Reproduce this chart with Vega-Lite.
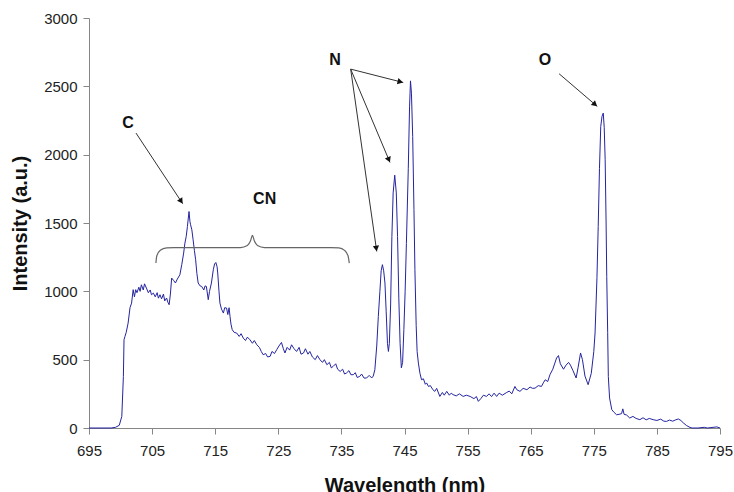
{
  "$schema": "https://vega.github.io/schema/vega-lite/v6.json",
  "width": 631,
  "height": 410,
  "autosize": "none",
  "padding": {"left": 89, "top": 18, "right": 14, "bottom": 64},
  "background": "white",
  "config": {
    "view": {"stroke": null},
    "axis": {
      "grid": false,
      "domainColor": "#868686",
      "tickColor": "#868686",
      "tickSize": 6,
      "labelFont": "Liberation Sans",
      "labelFontSize": 15,
      "labelColor": "#222222",
      "titleFont": "Liberation Sans",
      "titleFontSize": 20,
      "titleFontWeight": "bold",
      "titleColor": "#111111"
    },
    "axisX": {"labelPadding": 9, "titlePadding": 17, "labelFlush": false},
    "axisY": {"labelPadding": 6, "titlePadding": 13}
  },
  "layer": [
    {
      "data": {"values": [
        {"wl":695,"i":0},{"wl":698.5,"i":0},{"wl":699.2,"i":5},{"wl":699.8,"i":20},{"wl":700.2,"i":85},{"wl":700.45,"i":377},{"wl":700.55,"i":646},{"wl":700.7,"i":670},{"wl":700.9,"i":700},{"wl":701.2,"i":768},{"wl":701.5,"i":880},{"wl":701.75,"i":914},{"wl":702.0,"i":1012},{"wl":702.2,"i":960},{"wl":702.4,"i":1012},{"wl":702.6,"i":990},{"wl":702.9,"i":1030},{"wl":703.1,"i":1000},{"wl":703.3,"i":1048},{"wl":703.6,"i":1010},{"wl":703.8,"i":1055},{"wl":704.1,"i":1024},{"wl":704.4,"i":990},{"wl":704.7,"i":1010},{"wl":704.9,"i":975},{"wl":705.2,"i":987},{"wl":705.5,"i":960},{"wl":705.8,"i":990},{"wl":706.0,"i":950},{"wl":706.25,"i":975},{"wl":706.5,"i":945},{"wl":706.8,"i":980},{"wl":707.0,"i":930},{"wl":707.3,"i":951},{"wl":707.5,"i":920},{"wl":707.7,"i":902},{"wl":707.9,"i":980},{"wl":708.1,"i":1097},{"wl":708.4,"i":1080},{"wl":708.7,"i":1061},{"wl":709.0,"i":1090},{"wl":709.4,"i":1121},{"wl":709.7,"i":1195},{"wl":710.0,"i":1280},{"wl":710.2,"i":1353},{"wl":710.4,"i":1400},{"wl":710.6,"i":1475},{"wl":710.85,"i":1584},{"wl":711.0,"i":1510},{"wl":711.1,"i":1487},{"wl":711.3,"i":1450},{"wl":711.5,"i":1377},{"wl":711.7,"i":1300},{"wl":711.9,"i":1231},{"wl":712.1,"i":1130},{"wl":712.3,"i":1061},{"wl":712.6,"i":1040},{"wl":712.85,"i":1036},{"wl":713.2,"i":1010},{"wl":713.4,"i":1040},{"wl":713.6,"i":1036},{"wl":713.9,"i":939},{"wl":714.1,"i":1000},{"wl":714.4,"i":1061},{"wl":714.7,"i":1158},{"wl":714.9,"i":1200},{"wl":715.1,"i":1211},{"wl":715.3,"i":1180},{"wl":715.4,"i":1134},{"wl":715.6,"i":1000},{"wl":715.75,"i":914},{"wl":716.0,"i":870},{"wl":716.3,"i":841},{"wl":716.5,"i":880},{"wl":716.8,"i":878},{"wl":717.0,"i":830},{"wl":717.2,"i":880},{"wl":717.35,"i":816},{"wl":717.5,"i":760},{"wl":717.7,"i":719},{"wl":718.0,"i":700},{"wl":718.4,"i":695},{"wl":718.8,"i":670},{"wl":719.1,"i":690},{"wl":719.45,"i":658},{"wl":719.8,"i":640},{"wl":720.1,"i":665},{"wl":720.5,"i":646},{"wl":720.9,"i":620},{"wl":721.2,"i":640},{"wl":721.6,"i":609},{"wl":722.0,"i":590},{"wl":722.3,"i":560},{"wl":722.6,"i":536},{"wl":723.0,"i":545},{"wl":723.3,"i":520},{"wl":723.7,"i":524},{"wl":724.0,"i":560},{"wl":724.4,"i":545},{"wl":724.75,"i":573},{"wl":725.1,"i":600},{"wl":725.5,"i":626},{"wl":725.8,"i":580},{"wl":726.05,"i":549},{"wl":726.4,"i":590},{"wl":726.8,"i":570},{"wl":727.1,"i":609},{"wl":727.5,"i":580},{"wl":727.9,"i":560},{"wl":728.3,"i":590},{"wl":728.6,"i":540},{"wl":729.0,"i":549},{"wl":729.3,"i":580},{"wl":729.7,"i":540},{"wl":730.0,"i":560},{"wl":730.4,"i":520},{"wl":730.85,"i":500},{"wl":731.2,"i":530},{"wl":731.6,"i":500},{"wl":732.0,"i":480},{"wl":732.3,"i":500},{"wl":732.7,"i":463},{"wl":733.1,"i":480},{"wl":733.4,"i":440},{"wl":733.7,"i":451},{"wl":734.1,"i":470},{"wl":734.4,"i":430},{"wl":734.8,"i":414},{"wl":735.2,"i":430},{"wl":735.5,"i":395},{"wl":735.8,"i":402},{"wl":736.2,"i":420},{"wl":736.5,"i":390},{"wl":736.9,"i":390},{"wl":737.2,"i":405},{"wl":737.5,"i":370},{"wl":737.9,"i":377},{"wl":738.2,"i":395},{"wl":738.6,"i":365},{"wl":739.0,"i":366},{"wl":739.4,"i":385},{"wl":739.8,"i":366},{"wl":740.05,"i":380},{"wl":740.3,"i":426},{"wl":740.6,"i":600},{"wl":740.85,"i":816},{"wl":741.1,"i":1000},{"wl":741.3,"i":1150},{"wl":741.5,"i":1195},{"wl":741.7,"i":1150},{"wl":741.9,"i":1061},{"wl":742.1,"i":850},{"wl":742.3,"i":620},{"wl":742.45,"i":560},{"wl":742.6,"i":620},{"wl":742.8,"i":900},{"wl":743.0,"i":1400},{"wl":743.2,"i":1720},{"wl":743.45,"i":1850},{"wl":743.7,"i":1720},{"wl":743.9,"i":1400},{"wl":744.1,"i":950},{"wl":744.3,"i":620},{"wl":744.5,"i":440},{"wl":744.7,"i":480},{"wl":744.9,"i":720},{"wl":745.1,"i":1000},{"wl":745.3,"i":1350},{"wl":745.6,"i":1900},{"wl":745.8,"i":2350},{"wl":745.95,"i":2540},{"wl":746.1,"i":2450},{"wl":746.3,"i":2133},{"wl":746.5,"i":1600},{"wl":746.65,"i":1158},{"wl":746.85,"i":750},{"wl":747.0,"i":560},{"wl":747.2,"i":475},{"wl":747.45,"i":400},{"wl":747.7,"i":353},{"wl":748.0,"i":360},{"wl":748.3,"i":320},{"wl":748.5,"i":330},{"wl":748.8,"i":304},{"wl":749.1,"i":310},{"wl":749.5,"i":280},{"wl":749.8,"i":268},{"wl":750.1,"i":290},{"wl":750.6,"i":231},{"wl":751.0,"i":260},{"wl":751.3,"i":240},{"wl":751.7,"i":268},{"wl":752.1,"i":240},{"wl":752.4,"i":255},{"wl":752.7,"i":244},{"wl":753.2,"i":235},{"wl":753.7,"i":250},{"wl":754.3,"i":231},{"wl":754.8,"i":240},{"wl":755.4,"i":231},{"wl":756.0,"i":215},{"wl":756.4,"i":230},{"wl":756.7,"i":195},{"wl":757.1,"i":215},{"wl":757.5,"i":240},{"wl":758.0,"i":231},{"wl":758.4,"i":250},{"wl":758.8,"i":230},{"wl":759.2,"i":255},{"wl":759.6,"i":231},{"wl":760.0,"i":255},{"wl":760.5,"i":240},{"wl":761.2,"i":260},{"wl":761.6,"i":270},{"wl":762.0,"i":250},{"wl":762.5,"i":304},{"wl":762.8,"i":280},{"wl":763.3,"i":268},{"wl":763.8,"i":290},{"wl":764.4,"i":280},{"wl":764.9,"i":300},{"wl":765.3,"i":290},{"wl":765.7,"i":292},{"wl":766.2,"i":310},{"wl":766.7,"i":304},{"wl":767.0,"i":330},{"wl":767.3,"i":353},{"wl":767.7,"i":340},{"wl":768.05,"i":390},{"wl":768.5,"i":430},{"wl":769.1,"i":512},{"wl":769.4,"i":530},{"wl":769.7,"i":470},{"wl":770.2,"i":430},{"wl":770.6,"i":460},{"wl":771.0,"i":480},{"wl":771.3,"i":460},{"wl":771.7,"i":420},{"wl":772.2,"i":366},{"wl":772.5,"i":440},{"wl":772.9,"i":549},{"wl":773.2,"i":500},{"wl":773.6,"i":380},{"wl":774.1,"i":317},{"wl":774.6,"i":400},{"wl":775.0,"i":560},{"wl":775.2,"i":695},{"wl":775.5,"i":1100},{"wl":775.7,"i":1475},{"wl":775.9,"i":1900},{"wl":776.1,"i":2206},{"wl":776.3,"i":2280},{"wl":776.5,"i":2304},{"wl":776.65,"i":2200},{"wl":776.8,"i":1963},{"wl":776.95,"i":1500},{"wl":777.05,"i":1109},{"wl":777.2,"i":700},{"wl":777.3,"i":377},{"wl":777.5,"i":220},{"wl":777.85,"i":134},{"wl":778.2,"i":115},{"wl":778.6,"i":97},{"wl":779.0,"i":100},{"wl":779.4,"i":105},{"wl":779.6,"i":140},{"wl":779.8,"i":100},{"wl":780.2,"i":95},{"wl":780.7,"i":73},{"wl":781.2,"i":85},{"wl":781.7,"i":70},{"wl":782.3,"i":61},{"wl":782.8,"i":75},{"wl":783.3,"i":60},{"wl":783.8,"i":70},{"wl":784.4,"i":61},{"wl":785.0,"i":55},{"wl":785.6,"i":65},{"wl":786.1,"i":50},{"wl":786.5,"i":48},{"wl":787.0,"i":58},{"wl":787.5,"i":50},{"wl":788.0,"i":60},{"wl":788.4,"i":66},{"wl":788.8,"i":55},{"wl":789.2,"i":37},{"wl":789.7,"i":18},{"wl":790.25,"i":4},{"wl":790.6,"i":0},{"wl":791.5,"i":0},{"wl":792.5,"i":5},{"wl":793.0,"i":0},{"wl":794.5,"i":8},{"wl":795,"i":0}
      ]},
      "mark": {"type": "line", "color": "#2424a0", "strokeWidth": 1},
      "encoding": {
        "x": {"field": "wl", "type": "quantitative", "title": "Wavelength (nm)",
              "scale": {"domain": [695, 795], "nice": false, "zero": false},
              "axis": {"values": [695,705,715,725,735,745,755,765,775,785,795], "format": "d"}},
        "y": {"field": "i", "type": "quantitative", "title": "Intensity (a.u.)",
              "scale": {"domain": [0, 3000], "nice": false},
              "axis": {"values": [0,500,1000,1500,2000,2500,3000], "format": "d"}}
      }
    },
    {
      "data": {"values": [
        {"wl":705.6,"i":1207},{"wl":705.75,"i":1260},{"wl":706.3,"i":1300},{"wl":707.3,"i":1318},{"wl":708.5,"i":1320},{"wl":719.0,"i":1320},{"wl":720.1,"i":1335},{"wl":720.6,"i":1370},{"wl":720.9,"i":1410},{"wl":721.2,"i":1370},{"wl":721.7,"i":1335},{"wl":722.8,"i":1320},{"wl":733.3,"i":1320},{"wl":734.6,"i":1318},{"wl":735.5,"i":1300},{"wl":736.05,"i":1260},{"wl":736.25,"i":1207}
      ]},
      "mark": {"type": "line", "color": "#666666", "strokeWidth": 1.2, "interpolate": "monotone"},
      "encoding": {
        "x": {"field": "wl", "type": "quantitative", "title": "Wavelength (nm)"},
        "y": {"field": "i", "type": "quantitative", "title": "Intensity (a.u.)"}
      }
    },
    {
      "data": {"values": [
        {"wl":702.45,"i":2158,"wl2":709.85,"i2":1641},
        {"wl":736.47,"i":2626,"wl2":744.8,"i2":2528},
        {"wl":736.47,"i":2626,"wl2":742.7,"i2":1943},
        {"wl":736.47,"i":2626,"wl2":740.6,"i2":1292},
        {"wl":769.5,"i":2592,"wl2":775.55,"i2":2353}
      ]},
      "mark": {"type": "rule", "color": "#333333", "strokeWidth": 1},
      "encoding": {
        "x": {"field": "wl", "type": "quantitative", "title": "Wavelength (nm)"},
        "y": {"field": "i", "type": "quantitative", "title": "Intensity (a.u.)"},
        "x2": {"field": "wl2"},
        "y2": {"field": "i2"}
      }
    },
    {
      "data": {"values": [{"wl":709.6,"i":1659}]},
      "mark": {"type": "point", "shape": "triangle-up", "filled": true, "size": 40, "color": "#111111", "opacity": 1, "angle": 147},
      "encoding": {"x": {"field": "wl", "type": "quantitative", "title": "Wavelength (nm)"}, "y": {"field": "i", "type": "quantitative", "title": "Intensity (a.u.)"}}
    },
    {
      "data": {"values": [{"wl":744.34,"i":2533}]},
      "mark": {"type": "point", "shape": "triangle-up", "filled": true, "size": 40, "color": "#111111", "opacity": 1, "angle": 104},
      "encoding": {"x": {"field": "wl", "type": "quantitative", "title": "Wavelength (nm)"}, "y": {"field": "i", "type": "quantitative", "title": "Intensity (a.u.)"}}
    },
    {
      "data": {"values": [{"wl":742.52,"i":1963}]},
      "mark": {"type": "point", "shape": "triangle-up", "filled": true, "size": 40, "color": "#111111", "opacity": 1, "angle": 157},
      "encoding": {"x": {"field": "wl", "type": "quantitative", "title": "Wavelength (nm)"}, "y": {"field": "i", "type": "quantitative", "title": "Intensity (a.u.)"}}
    },
    {
      "data": {"values": [{"wl":740.53,"i":1314}]},
      "mark": {"type": "point", "shape": "triangle-up", "filled": true, "size": 40, "color": "#111111", "opacity": 1, "angle": 172},
      "encoding": {"x": {"field": "wl", "type": "quantitative", "title": "Wavelength (nm)"}, "y": {"field": "i", "type": "quantitative", "title": "Intensity (a.u.)"}}
    },
    {
      "data": {"values": [{"wl":775.19,"i":2367}]},
      "mark": {"type": "point", "shape": "triangle-up", "filled": true, "size": 40, "color": "#111111", "opacity": 1, "angle": 131},
      "encoding": {"x": {"field": "wl", "type": "quantitative", "title": "Wavelength (nm)"}, "y": {"field": "i", "type": "quantitative", "title": "Intensity (a.u.)"}}
    },
    {
      "data": {"values": [
        {"wl":701.2,"i":2233,"label":"C"},
        {"wl":722.84,"i":1677,"label":"CN"},
        {"wl":733.99,"i":2694,"label":"N"},
        {"wl":767.27,"i":2694,"label":"O"}
      ]},
      "mark": {"type": "text", "font": "Liberation Sans", "fontSize": 16, "fontWeight": "bold", "color": "#111111", "align": "center", "baseline": "middle"},
      "encoding": {
        "x": {"field": "wl", "type": "quantitative", "title": "Wavelength (nm)"},
        "y": {"field": "i", "type": "quantitative", "title": "Intensity (a.u.)"},
        "text": {"field": "label"}
      }
    }
  ]
}
